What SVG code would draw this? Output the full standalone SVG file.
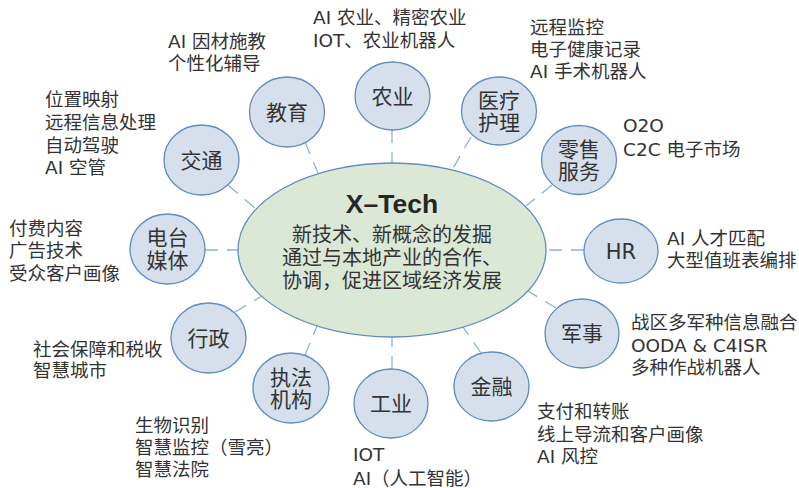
<svg xmlns="http://www.w3.org/2000/svg" width="799" height="488" viewBox="0 0 799 488">
<style>
.bg{fill:#ffffff}
.hub{fill:#DCE8D6;stroke:#5E8DBE;stroke-width:1.3}
.node{fill:#D5E0EC;stroke:#5E8DBE;stroke-width:1.3}
.conn line{stroke:#8CB2DA;stroke-width:1.3;stroke-dasharray:13 9;fill:none}
.lbl{font-family:"DejaVu Sans","Noto Sans CJK SC",sans-serif;font-size:21px;fill:#333333;text-anchor:middle}
.side{font-family:"DejaVu Sans","Noto Sans CJK SC",sans-serif;font-size:18.5px;fill:#333333}
.ctr{font-family:"DejaVu Sans","Noto Sans CJK SC",sans-serif;font-size:20px;fill:#333333;text-anchor:middle}
.title{font-family:"Liberation Sans",Arial,sans-serif;font-size:26.5px;font-weight:bold;fill:#262626;text-anchor:middle}
</style>
<rect class="bg" x="0" y="0" width="799" height="488"/>
<g id="connectors" class="conn">
<line x1="392" y1="130" x2="392" y2="163"/>
<line x1="305" y1="142" x2="318" y2="173"/>
<line x1="471" y1="137" x2="452" y2="170"/>
<line x1="552" y1="185" x2="526" y2="206"/>
<line x1="584" y1="250" x2="546" y2="250"/>
<line x1="556" y1="308" x2="528" y2="291"/>
<line x1="481" y1="353" x2="463" y2="327"/>
<line x1="392" y1="369" x2="392" y2="337"/>
<line x1="305" y1="355" x2="317" y2="326"/>
<line x1="235" y1="312" x2="262" y2="296"/>
<line x1="205" y1="250" x2="238" y2="250"/>
<line x1="228" y1="185" x2="256" y2="209"/>
</g>
<g id="hub">
<ellipse class="hub" cx="392" cy="250" rx="154" ry="87"/>
<text class="title" x="392" y="213">X–Tech</text>
<text class="ctr" x="392" y="242">新技术、新概念的发掘</text>
<text class="ctr" x="392" y="265">通过与本地产业的合作、</text>
<text class="ctr" x="392" y="288">协调，促进区域经济发展</text>
</g>
<g id="agriculture">
<ellipse class="node" cx="392.5" cy="96" rx="37.5" ry="34"/>
<text class="lbl" x="392.5" y="103.5">农业</text>
<text class="side" x="313" y="24">AI 农业、精密农业</text>
<text class="side" x="313" y="47">IOT、农业机器人</text>
</g>
<g id="education">
<ellipse class="node" cx="287" cy="112" rx="37.5" ry="35"/>
<text class="lbl" x="287" y="119.5">教育</text>
<text class="side" x="168" y="48">AI 因材施教</text>
<text class="side" x="168" y="70">个性化辅导</text>
</g>
<g id="medical">
<ellipse class="node" cx="499" cy="111" rx="37.5" ry="34"/>
<text class="lbl" x="499" y="107.5">医疗</text>
<text class="lbl" x="499" y="129.5">护理</text>
<text class="side" x="530" y="33.5">远程监控</text>
<text class="side" x="530" y="56">电子健康记录</text>
<text class="side" x="530" y="78">AI 手术机器人</text>
</g>
<g id="retail">
<ellipse class="node" cx="579" cy="160" rx="37.5" ry="34.5"/>
<text class="lbl" x="579" y="156.5">零售</text>
<text class="lbl" x="579" y="178.5">服务</text>
<text class="side" x="623" y="132">O2O</text>
<text class="side" x="623" y="155.5">C2C 电子市场</text>
</g>
<g id="hr">
<ellipse class="node" cx="621" cy="251" rx="37" ry="32"/>
<text class="lbl" x="621" y="258.5">HR</text>
<text class="side" x="667" y="244.5">AI 人才匹配</text>
<text class="side" x="667" y="266.5">大型值班表编排</text>
</g>
<g id="military">
<ellipse class="node" cx="582" cy="333.5" rx="37" ry="34.5"/>
<text class="lbl" x="582" y="341">军事</text>
<text class="side" x="631" y="328.5">战区多军种信息融合</text>
<text class="side" x="631" y="351.5">OODA &amp; C4ISR</text>
<text class="side" x="631" y="373.5">多种作战机器人</text>
</g>
<g id="finance">
<ellipse class="node" cx="491.5" cy="386.5" rx="37.5" ry="34.5"/>
<text class="lbl" x="491.5" y="394">金融</text>
<text class="side" x="537" y="417.5">支付和转账</text>
<text class="side" x="537" y="440.5">线上导流和客户画像</text>
<text class="side" x="537" y="463">AI 风控</text>
</g>
<g id="industry">
<ellipse class="node" cx="391" cy="403.5" rx="37" ry="34.5"/>
<text class="lbl" x="391" y="411">工业</text>
<text class="side" x="353" y="461">IOT</text>
<text class="side" x="353" y="484.5">AI（人工智能）</text>
</g>
<g id="law">
<ellipse class="node" cx="291" cy="388" rx="38" ry="35"/>
<text class="lbl" x="291" y="384.5">执法</text>
<text class="lbl" x="291" y="406.5">机构</text>
<text class="side" x="135" y="432">生物识别</text>
<text class="side" x="135" y="454">智慧监控（雪亮）</text>
<text class="side" x="135" y="476">智慧法院</text>
</g>
<g id="government">
<ellipse class="node" cx="208.5" cy="338" rx="37.5" ry="35"/>
<text class="lbl" x="208.5" y="345.5">行政</text>
<text class="side" x="33" y="355.5">社会保障和税收</text>
<text class="side" x="33" y="376.5">智慧城市</text>
</g>
<g id="media">
<ellipse class="node" cx="167.5" cy="249" rx="37.5" ry="35"/>
<text class="lbl" x="167.5" y="245">电台</text>
<text class="lbl" x="167.5" y="268">媒体</text>
<text class="side" x="9" y="235">付费内容</text>
<text class="side" x="9" y="257">广告技术</text>
<text class="side" x="9" y="280">受众客户画像</text>
</g>
<g id="transport">
<ellipse class="node" cx="201.5" cy="160" rx="37.5" ry="35"/>
<text class="lbl" x="201.5" y="167.5">交通</text>
<text class="side" x="45" y="105.5">位置映射</text>
<text class="side" x="45" y="128.5">远程信息处理</text>
<text class="side" x="45" y="151.5">自动驾驶</text>
<text class="side" x="45" y="173.5">AI 空管</text>
</g>
</svg>
